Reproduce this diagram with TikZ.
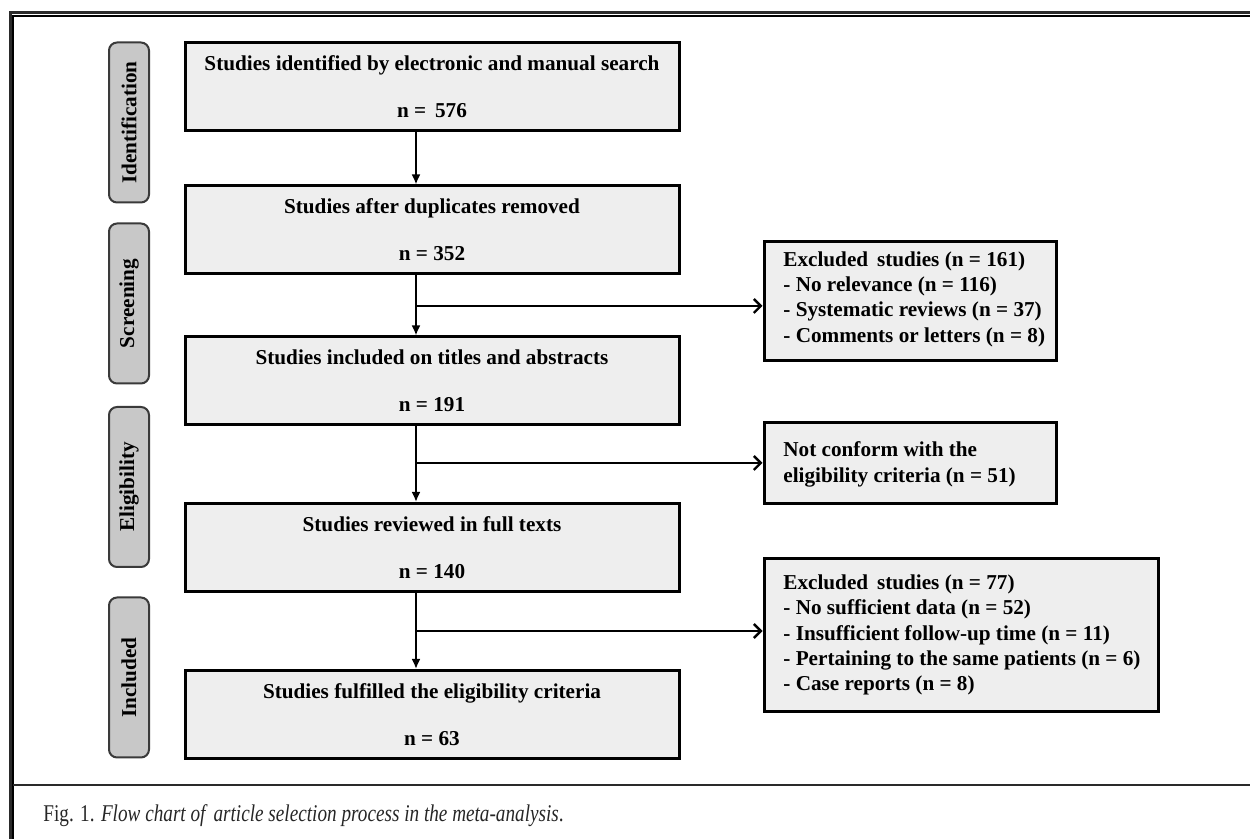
\documentclass[tikz,border=0pt]{standalone}
\usepackage{fontspec}
\setmainfont{Liberation Serif}
\usetikzlibrary{arrows.meta,positioning,calc}
\definecolor{boxfill}{HTML}{EEEEEE}
\definecolor{stagefill}{HTML}{C8C8C8}
\definecolor{stageline}{HTML}{3A3A3A}
\definecolor{frameline}{HTML}{2A2A2A}
\tikzset{
  mainbox/.style={draw=black, line width=1.5pt, fill=boxfill, minimum width=247pt, minimum height=44pt, inner sep=0pt, align=center, font=\fontsize{10.6}{12.65}\selectfont\bfseries},
  sidebox/.style={draw=black, line width=1.5pt, fill=boxfill, inner sep=0pt},
  sidetext/.style={anchor=west, inner sep=0pt, align=left, font=\fontsize{10.6}{12.65}\selectfont\bfseries},
  stagebox/.style={draw=stageline, line width=1pt, fill=stagefill, rounded corners=4pt, minimum width=20pt, minimum height=80pt, inner sep=0pt, font=\fontsize{10.6}{12.65}\selectfont\bfseries},
  downarrow/.style={line width=1.2pt, -{Latex[length=5pt,width=4.5pt]}},
  sidearrow/.style={line width=1.2pt, -{Straight Barb[length=3.5pt,width=7pt,line width=1.2pt]}},
}
\begin{document}
\begin{tikzpicture}[x=0.5pt,y=-0.5pt]
\useasboundingbox (0,0) rectangle (1250,839);
% frame
\draw[frameline, line width=1.5pt] (10,839) -- (10,12.5) -- (1250,12.5);
\draw[black, line width=0.65pt] (13,839) -- (13,16) -- (1250,16);
\draw[frameline, line width=1.35pt] (13,785) -- (1250,785);
\node[anchor=base west, inner sep=0pt, font=\fontsize{12}{14}\selectfont, text=black!85] (cap) at (43,822) {\scalebox{0.8}[1]{Fig. 1. \textit{Flow chart of\, article selection process in the meta-analysis}.}};
% stage labels
\node[stagebox] (s1) at (129,122.5) {\rotatebox{90}{Identification}};
\node[stagebox] (s2) at (129,303.5) {\rotatebox{90}{Screening}};
\node[stagebox] (s3) at (129,487) {\rotatebox{90}{Eligibility}};
\node[stagebox] (s4) at (129,677.5) {\rotatebox{90}{Included}};
% main boxes
\node[mainbox] (b1) at (432,87) {Studies identified by electronic and manual search\\[10.85pt]n =\, 576};
\node[mainbox] (b2) at (432,230) {Studies after duplicates removed\\[10.85pt]n = 352};
\node[mainbox] (b3) at (432,381) {Studies included on titles and abstracts\\[10.85pt]n = 191};
\node[mainbox] (b4) at (432,547.5) {Studies reviewed in full texts\\[10.85pt]n = 140};
\node[mainbox] (b5) at (432,714.5) {Studies fulfilled the eligibility criteria\\[10.85pt]n = 63};
% side boxes
\node[sidebox, minimum width=146pt, minimum height=59.5pt] (r1) at (910,301.5) {};
\node[sidetext] (t1) at (783,299) {Excluded\, studies (n = 161)\\- No relevance (n = 116)\\- Systematic reviews (n = 37)\\- Comments or letters (n = 8)};
\node[sidebox, minimum width=146pt, minimum height=40.5pt] (r2) at (910,463.5) {};
\node[sidetext] (t2) at (783,464.5) {Not conform with the\\eligibility criteria (n = 51)};
\node[sidebox, minimum width=197pt, minimum height=76.5pt] (r3) at (961,635.5) {};
\node[sidetext] (t3) at (783,635) {Excluded\, studies (n = 77)\\- No sufficient data (n = 52)\\- Insufficient follow-up time (n = 11)\\- Pertaining to the same patients (n = 6)\\- Case reports (n = 8)};
% connectors
\coordinate (ax) at (416,0);
\coordinate (j1) at (416,306);
\coordinate (j2) at (416,463);
\coordinate (j3) at (416,631);
\draw[downarrow] (b1.south -| ax) -- (b2.north -| ax);
\draw[downarrow] (b2.south -| ax) -- (b3.north -| ax);
\draw[downarrow] (b3.south -| ax) -- (b4.north -| ax);
\draw[downarrow] (b4.south -| ax) -- (b5.north -| ax);
\draw[sidearrow] (j1) -- (j1 -| r1.west);
\draw[sidearrow] (j2) -- (j2 -| r2.west);
\draw[sidearrow] (j3) -- (j3 -| r3.west);
\end{tikzpicture}
\end{document}
